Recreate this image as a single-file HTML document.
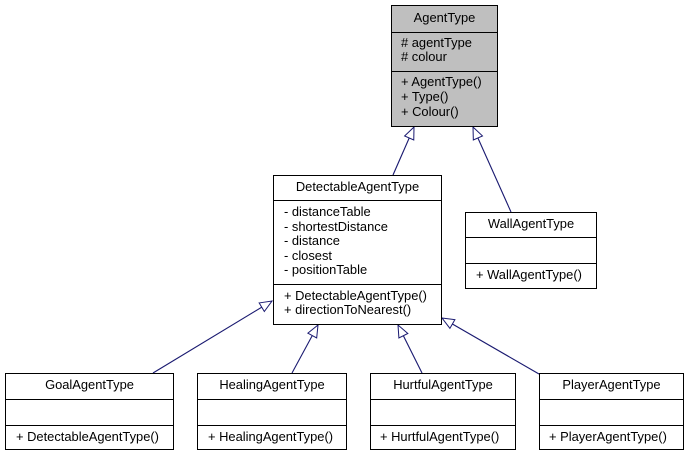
<!DOCTYPE html>
<html><head><meta charset="utf-8"><style>
html,body{margin:0;padding:0;background:#fff;}
svg text{font-family:"Liberation Sans",Helvetica,Arial,sans-serif;font-size:12.9px;fill:#000;}
</style></head><body>
<svg width="687" height="456" viewBox="0 0 687 456" xmlns="http://www.w3.org/2000/svg">
<defs>
<marker id="tri" markerWidth="14" markerHeight="12" refX="13" refY="6" orient="auto" markerUnits="userSpaceOnUse">
<path d="M1,1 L13,6 L1,11 Z" fill="#fff" stroke="#191970" stroke-width="1"/>
</marker>
</defs>
<g stroke="#191970" stroke-width="1.1" fill="none">
<line x1="393" y1="175" x2="414" y2="127" marker-end="url(#tri)"/>
<line x1="511" y1="212" x2="473" y2="127" marker-end="url(#tri)"/>
<line x1="153" y1="373" x2="272" y2="301" marker-end="url(#tri)"/>
<line x1="292" y1="373" x2="318" y2="325" marker-end="url(#tri)"/>
<line x1="422" y1="373" x2="398" y2="325" marker-end="url(#tri)"/>
<line x1="539" y1="374" x2="442" y2="318" marker-end="url(#tri)"/>
</g>
<g stroke="#000" stroke-width="1" fill="#fff">
<rect x="391.5" y="5.5" width="106" height="121" fill="#bfbfbf"/>
<line x1="391.5" y1="32.5" x2="497.5" y2="32.5"/>
<line x1="391.5" y1="71.5" x2="497.5" y2="71.5"/>
<rect x="273.5" y="175.5" width="168" height="149"/>
<line x1="273.5" y1="200.5" x2="441.5" y2="200.5"/>
<line x1="273.5" y1="284.5" x2="441.5" y2="284.5"/>
<rect x="465.5" y="212.5" width="131" height="76"/>
<line x1="465.5" y1="237.5" x2="596.5" y2="237.5"/>
<line x1="465.5" y1="263.5" x2="596.5" y2="263.5"/>
<rect x="5.5" y="373.5" width="168" height="76"/>
<line x1="5.5" y1="399.5" x2="173.5" y2="399.5"/>
<line x1="5.5" y1="425.5" x2="173.5" y2="425.5"/>
<rect x="197.5" y="373.5" width="149" height="76"/>
<line x1="197.5" y1="399.5" x2="346.5" y2="399.5"/>
<line x1="197.5" y1="425.5" x2="346.5" y2="425.5"/>
<rect x="370.5" y="373.5" width="145" height="76"/>
<line x1="370.5" y1="399.5" x2="515.5" y2="399.5"/>
<line x1="370.5" y1="425.5" x2="515.5" y2="425.5"/>
<rect x="539.5" y="373.5" width="144" height="76"/>
<line x1="539.5" y1="399.5" x2="683.5" y2="399.5"/>
<line x1="539.5" y1="425.5" x2="683.5" y2="425.5"/>
</g>
<text x="444.5" y="22" text-anchor="middle">AgentType</text>
<text x="401" y="47"># agentType</text>
<text x="401" y="61"># colour</text>
<text x="401" y="86">+ AgentType()</text>
<text x="401" y="101">+ Type()</text>
<text x="401" y="116">+ Colour()</text>
<text x="357.5" y="191" text-anchor="middle">DetectableAgentType</text>
<text x="284" y="216">- distanceTable</text>
<text x="284" y="231">- shortestDistance</text>
<text x="284" y="245">- distance</text>
<text x="284" y="260">- closest</text>
<text x="284" y="274">- positionTable</text>
<text x="284" y="300">+ DetectableAgentType()</text>
<text x="284" y="314">+ directionToNearest()</text>
<text x="531" y="228" text-anchor="middle">WallAgentType</text>
<text x="476" y="279">+ WallAgentType()</text>
<text x="89.5" y="389" text-anchor="middle">GoalAgentType</text>
<text x="16" y="441">+ DetectableAgentType()</text>
<text x="272" y="389" text-anchor="middle">HealingAgentType</text>
<text x="208" y="441">+ HealingAgentType()</text>
<text x="443" y="389" text-anchor="middle">HurtfulAgentType</text>
<text x="380" y="441">+ HurtfulAgentType()</text>
<text x="611.5" y="389" text-anchor="middle">PlayerAgentType</text>
<text x="549" y="441">+ PlayerAgentType()</text>
</svg>
</body></html>
